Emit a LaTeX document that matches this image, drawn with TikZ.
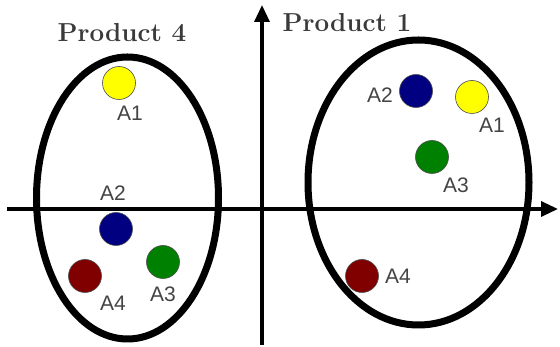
\documentclass[tikz,border=0pt]{standalone}
\usepackage{fontspec}
\newfontfamily\labelfont{Liberation Sans}
\usetikzlibrary{arrows.meta}
\begin{document}
\begin{tikzpicture}[x=1pt,y=1pt,
  axis/.style={draw=black,line width=3.3pt,-{Triangle[length=17pt,width=15pt]}},
  group/.style={draw=black,line width=7pt},
  dot/.style={circle,draw=gray!60!black,line width=0.6pt,minimum size=33pt,inner sep=0pt},
  tag/.style={text=textColor,inner sep=0pt,font=\labelfont\fontsize{21}{21}\selectfont},
  title/.style={text=titleColor,inner sep=0pt,font=\bfseries\fontsize{26}{26}\selectfont}]
\definecolor{textColor}{RGB}{68,68,68}
\definecolor{titleColor}{RGB}{58,58,58}
\definecolor{yellowFill}{RGB}{255,255,0}
\definecolor{blueFill}{RGB}{0,0,128}
\definecolor{greenFill}{RGB}{0,128,0}
\definecolor{redFill}{RGB}{128,0,0}
\path[use as bounding box,fill=white] (0,0) rectangle (560,347);

% axes
\coordinate (xstart) at (  7,138);
\coordinate (xend)   at (558,138);
\coordinate (ystart) at (262,  2);
\coordinate (yend)   at (262,342);
\draw[axis] (xstart) -- (xend);
\draw[axis] (ystart) -- (yend);

% groups
\path[group] (127.5,149.0) ellipse ( 91.0 and 141.0);
\path[group] (418.5,164.5) ellipse (110.5 and 142.5);

\node[title] (p4) at (122,314) {Product 4};
\node[title] (p1) at (347,324) {Product 1};

% product 4
\node[dot,fill=yellowFill] (p4a1) at (119,264) {};
\node[dot,fill=blueFill]   (p4a2) at (116,118) {};
\node[dot,fill=greenFill]  (p4a3) at (163, 85) {};
\node[dot,fill=redFill]    (p4a4) at ( 85, 71) {};
\node[tag] (p4a1l) at (130,234) {A1};
\node[tag] (p4a2l) at (113,154) {A2};
\node[tag] (p4a3l) at (163, 53) {A3};
\node[tag] (p4a4l) at (113, 44) {A4};

% product 1
\node[dot,fill=yellowFill] (p1a1) at (472,250) {};
\node[dot,fill=blueFill]   (p1a2) at (416,256) {};
\node[dot,fill=greenFill]  (p1a3) at (432,190) {};
\node[dot,fill=redFill]    (p1a4) at (362, 71) {};
\node[tag] (p1a1l) at (492,222) {A1};
\node[tag] (p1a2l) at (380,252) {A2};
\node[tag] (p1a3l) at (456,162) {A3};
\node[tag] (p1a4l) at (398, 71) {A4};
\end{tikzpicture}
\end{document}
